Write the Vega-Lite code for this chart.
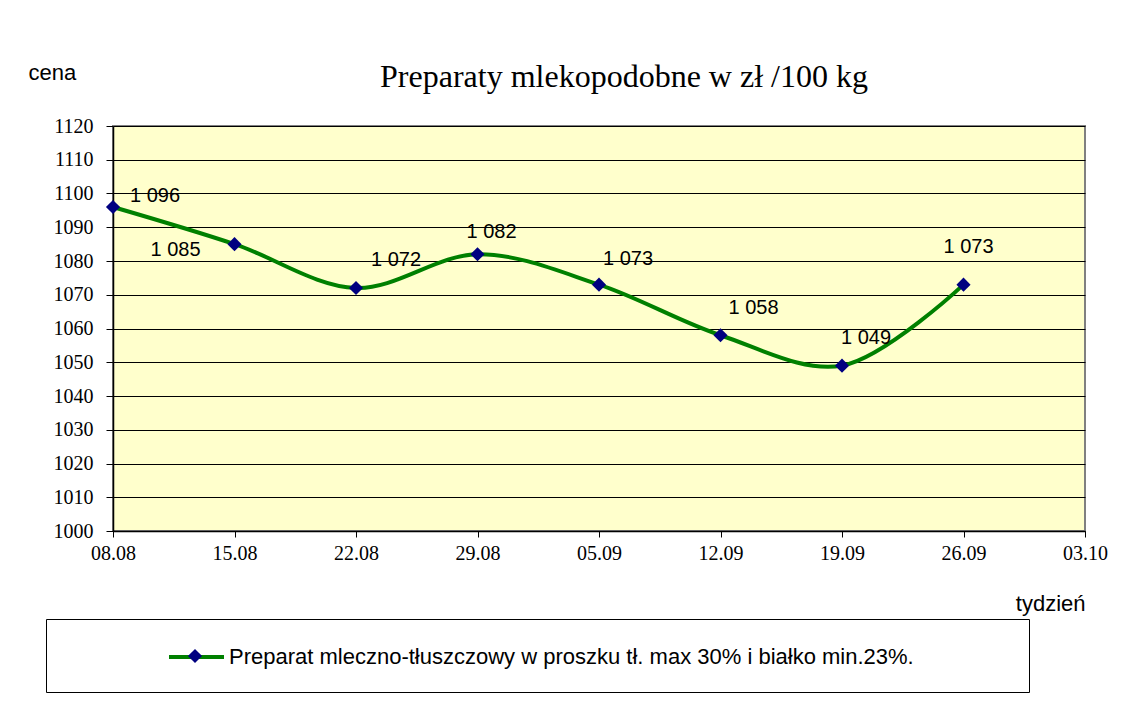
{
  "$schema": "https://vega.github.io/schema/vega-lite/v6.json",
  "width": 972,
  "height": 405,
  "autosize": {"type": "none"},
  "padding": {"left": 113, "top": 126, "right": 38, "bottom": 173},
  "background": "white",
  "title": {
    "text": "Preparaty mlekopodobne w zł /100 kg",
    "font": "Liberation Serif",
    "fontSize": 32,
    "fontWeight": "normal",
    "color": "black",
    "anchor": "middle",
    "dx": 25,
    "dy": 55,
    "offset": 22
  },
  "data": {
    "values": [
      {"tydzien": "08.08", "cena": 1096},
      {"tydzien": "15.08", "cena": 1085},
      {"tydzien": "22.08", "cena": 1072},
      {"tydzien": "29.08", "cena": 1082},
      {"tydzien": "05.09", "cena": 1073},
      {"tydzien": "12.09", "cena": 1058},
      {"tydzien": "19.09", "cena": 1049},
      {"tydzien": "26.09", "cena": 1073}
    ]
  },
  "encoding": {
    "x": {
      "field": "tydzien",
      "type": "ordinal",
      "sort": null,
      "scale": {"type": "point", "padding": 0, "domain": ["08.08", "15.08", "22.08", "29.08", "05.09", "12.09", "19.09", "26.09", "03.10"]},
      "axis": {
        "title": "tydzień",
        "titleX": 972,
        "titleY": 72,
        "titleAlign": "right",
        "titleBaseline": "middle",
        "titleFont": "Liberation Sans",
        "titleFontSize": 22,
        "titleFontWeight": "normal",
        "titleColor": "black",
        "labelAngle": 0,
        "labelFont": "Liberation Serif",
        "labelFontSize": 20,
        "labelColor": "black",
        "labelPadding": 6,
        "tickSize": 6,
        "tickColor": "black",
        "domainColor": "black",
        "domainWidth": 1.5,
        "grid": false
      }
    },
    "y": {
      "field": "cena",
      "type": "quantitative",
      "scale": {"domain": [1000, 1120], "nice": false, "zero": false},
      "axis": {
        "title": "cena",
        "titleAngle": 0,
        "titleX": -85,
        "titleY": -54,
        "titleAlign": "left",
        "titleBaseline": "middle",
        "titleFont": "Liberation Sans",
        "titleFontSize": 22,
        "titleFontWeight": "normal",
        "titleColor": "black",
        "values": [1000, 1010, 1020, 1030, 1040, 1050, 1060, 1070, 1080, 1090, 1100, 1110, 1120],
        "format": "d",
        "labelFont": "Liberation Serif",
        "labelFontSize": 20,
        "labelColor": "black",
        "labelPadding": 13,
        "tickSize": 7,
        "tickColor": "black",
        "domainColor": "black",
        "domainWidth": 1.5,
        "grid": true,
        "gridColor": "black",
        "gridWidth": 1,
        "gridOpacity": 1
      }
    }
  },
  "layer": [
    {
      "mark": {"type": "line", "strokeWidth": 4, "interpolate": "catmull-rom"},
      "encoding": {
        "stroke": {
          "datum": "Preparat mleczno-tłuszczowy w proszku tł. max 30% i białko min.23%.",
          "type": "nominal",
          "scale": {"range": ["#008000"]},
          "legend": {
            "orient": "none",
            "legendX": -67,
            "legendY": 493,
            "title": " ",
            "titleOrient": "right",
            "titlePadding": 92,
            "padding": 23.5,
            "symbolOffset": 112.5,
            "symbolType": "M-2.2,0H2.2",
            "symbolSize": 625,
            "symbolStrokeWidth": 4,
            "symbolFillColor": "transparent",
            "labelOffset": 18,
            "labelFont": "Liberation Sans",
            "labelFontSize": 22,
            "labelColor": "black",
            "labelLimit": 1000,
            "strokeColor": "black",
            "fillColor": "white",
            "zindex": 0
          }
        }
      }
    },
    {
      "mark": {"type": "point", "shape": "diamond", "filled": true, "size": 200, "opacity": 1},
      "encoding": {
        "fill": {
          "datum": "znacznik",
          "type": "nominal",
          "scale": {"range": ["#000080"]},
          "legend": {
            "orient": "none",
            "legendX": 74.5,
            "legendY": 522.5,
            "title": null,
            "padding": 0,
            "symbolSize": 200,
            "symbolType": "diamond",
            "symbolStrokeWidth": 0,
            "labelExpr": "''",
            "labelFontSize": 1,
            "zindex": 2
          }
        }
      }
    },
    {
      "transform": [{"filter": {"field": "tydzien", "oneOf": ["08.08"]}}],
      "mark": {"type": "text", "font": "Liberation Sans", "fontSize": 20, "color": "black", "dx": 42, "dy": -11},
      "encoding": {"text": {"field": "cena", "type": "quantitative", "format": ",.0f"}}
    },
    {
      "transform": [{"filter": {"field": "tydzien", "oneOf": ["15.08"]}}],
      "mark": {"type": "text", "font": "Liberation Sans", "fontSize": 20, "color": "black", "dx": -59, "dy": 6},
      "encoding": {"text": {"field": "cena", "type": "quantitative", "format": ",.0f"}}
    },
    {
      "transform": [{"filter": {"field": "tydzien", "oneOf": ["22.08"]}}],
      "mark": {"type": "text", "font": "Liberation Sans", "fontSize": 20, "color": "black", "dx": 40, "dy": -28},
      "encoding": {"text": {"field": "cena", "type": "quantitative", "format": ",.0f"}}
    },
    {
      "transform": [{"filter": {"field": "tydzien", "oneOf": ["29.08"]}}],
      "mark": {"type": "text", "font": "Liberation Sans", "fontSize": 20, "color": "black", "dx": 14, "dy": -22},
      "encoding": {"text": {"field": "cena", "type": "quantitative", "format": ",.0f"}}
    },
    {
      "transform": [{"filter": {"field": "tydzien", "oneOf": ["05.09"]}}],
      "mark": {"type": "text", "font": "Liberation Sans", "fontSize": 20, "color": "black", "dx": 29, "dy": -26},
      "encoding": {"text": {"field": "cena", "type": "quantitative", "format": ",.0f"}}
    },
    {
      "transform": [{"filter": {"field": "tydzien", "oneOf": ["12.09"]}}],
      "mark": {"type": "text", "font": "Liberation Sans", "fontSize": 20, "color": "black", "dx": 33, "dy": -27},
      "encoding": {"text": {"field": "cena", "type": "quantitative", "format": ",.0f"}}
    },
    {
      "transform": [{"filter": {"field": "tydzien", "oneOf": ["19.09"]}}],
      "mark": {"type": "text", "font": "Liberation Sans", "fontSize": 20, "color": "black", "dx": 24, "dy": -28},
      "encoding": {"text": {"field": "cena", "type": "quantitative", "format": ",.0f"}}
    },
    {
      "transform": [{"filter": {"field": "tydzien", "oneOf": ["26.09"]}}],
      "mark": {"type": "text", "font": "Liberation Sans", "fontSize": 20, "color": "black", "dx": 5, "dy": -38},
      "encoding": {"text": {"field": "cena", "type": "quantitative", "format": ",.0f"}}
    }
  ],
  "config": {
    "locale": {"number": {"decimal": ",", "thousands": "\u00a0", "grouping": [3], "currency": ["", "\u00a0zł"]}},
    "view": {"fill": "#FFFFCC", "stroke": "#808080", "strokeWidth": 2}
  }
}
